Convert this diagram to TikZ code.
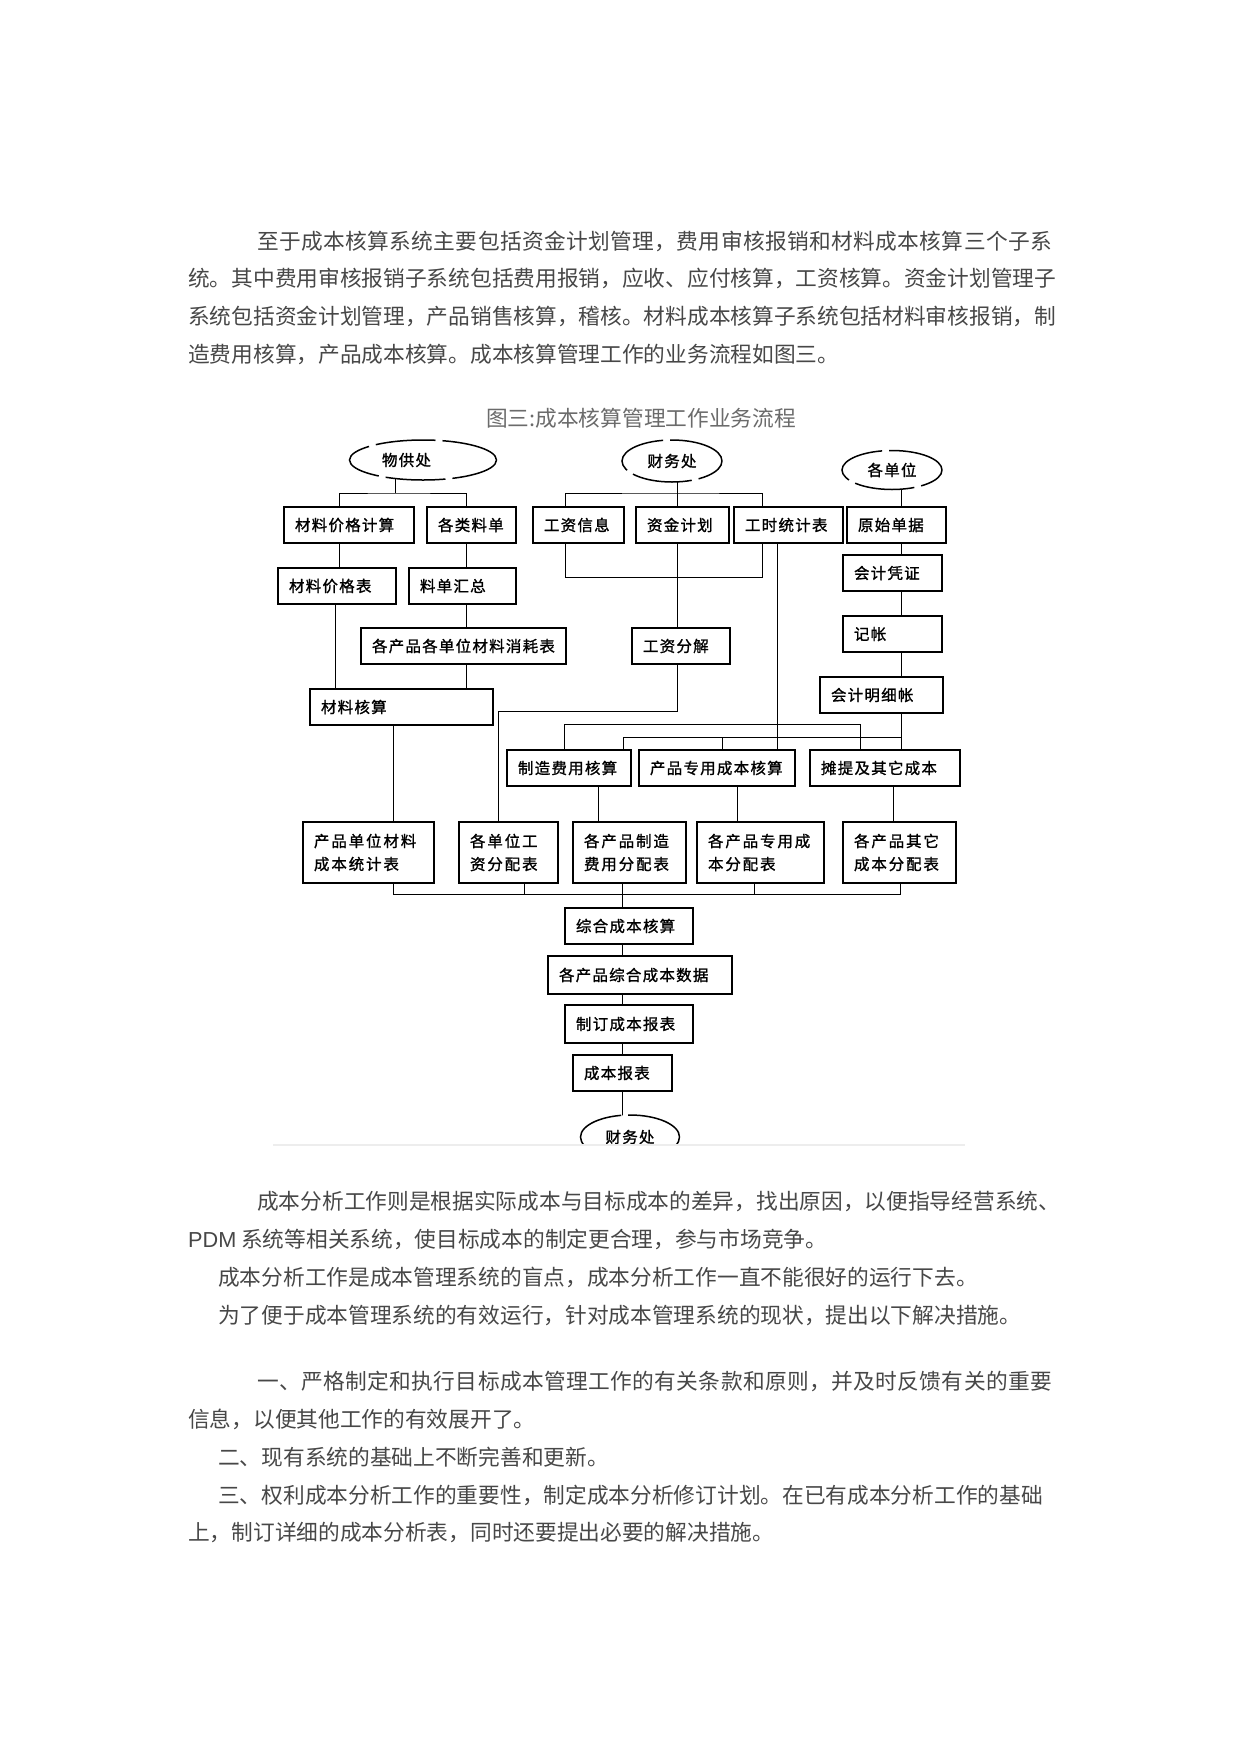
\documentclass[tikz,border=0pt]{standalone}
\usepackage{fontspec}
\setmainfont{Noto Sans CJK SC}
\newfontfamily\bodyfont{Noto Sans CJK SC}
\newfontfamily\widefont[LetterSpace=1.8]{Noto Sans CJK SC}
\newfontfamily\boxfont[LetterSpace=8,FakeBold=1.2]{Noto Sans CJK SC}
\newfontfamily\tablefont[LetterSpace=12,FakeBold=1.2]{Noto Sans CJK SC}
\newfontfamily\latinfont{Liberation Sans}
\usetikzlibrary{shapes.geometric,backgrounds}

\tikzset{
  box/.style={draw, line width=2pt, fill=white, minimum height=36pt,
    inner xsep=11pt, inner ysep=0pt, align=left, anchor=north west,
    font=\boxfont\fontsize{15.5pt}{23pt}\selectfont},
  twoline/.style={box, minimum height=61pt,
    font=\tablefont\fontsize{15.5pt}{23pt}\selectfont},
  org/.style={ellipse, draw, line width=1.5pt, dash pattern=on 60pt off 7pt,
    fill=white, inner sep=0pt, font=\boxfont\fontsize{15.5pt}{18pt}\selectfont},
  body/.style={anchor=west, inner sep=0pt, text=black!72,
    font=\bodyfont\fontsize{21.7pt}{26pt}\selectfont},
  link/.style={line width=2pt},
}

\begin{document}
\begin{tikzpicture}[x=1pt,y=-1pt]
\useasboundingbox (0,0) rectangle (1241,1754);

% Text above the chart
\node[body, font=\widefont\fontsize{21.7pt}{26pt}\selectfont] (p1a) at (257,241) {至于成本核算系统主要包括资金计划管理，费用审核报销和材料成本核算三个子系};
\node[body] (p1b) at (188,278.5) {统。其中费用审核报销子系统包括费用报销，应收、应付核算，工资核算。资金计划管理子};
\node[body] (p1c) at (188,316) {系统包括资金计划管理，产品销售核算，稽核。材料成本核算子系统包括材料审核报销，制};
\node[body] (p1d) at (188,354) {造费用核算，产品成本核算。成本核算管理工作的业务流程如图三。};

% Title
\node[body, anchor=center, text=black!58] (title) at (641,418) {图三:成本核算管理工作业务流程};

% Sources
\node[org, minimum width=147pt, minimum height=40pt, text width=82pt, align=left] (wgc) at (423,460) {物供处};
\node[org, minimum width=100pt, minimum height=42pt] (cwc) at (672,461) {财务处};
\node[org, minimum width=100pt, minimum height=39pt] (gdw) at (892,470) {各单位};

% First row
\node[box, text width=108pt] (jgjs) at (283,506) {材料价格计算};
\node[box, text width=67pt]  (glld) at (426,506) {各类料单};
\node[box, text width=69pt]  (gzxx) at (532,506) {工资信息};
\node[box, text width=71pt]  (zjjh) at (635,506) {资金计划};
\node[box, text width=87pt]  (gstj) at (733,506) {工时统计表};
\node[box, text width=77pt]  (ysdj) at (846,506) {原始单据};

% Material side
\node[box, text width=96pt]  (jgb)  at (277,567) {材料价格表};
\node[box, text width=85pt]  (ldhz) at (408,567) {料单汇总};
\node[box, text width=183pt] (xhb)  at (360,627) {各产品各单位材料消耗表};
\node[box, text width=161pt] (clhs) at (309,688) {材料核算};

% Wage side
\node[box, text width=76pt]  (gzfj) at (631,627) {工资分解};

% Accounting side
\node[box, text width=77pt]  (kjpz) at (842,554) {会计凭证};
\node[box, text width=77pt]  (jz)   at (842,615) {记帐};
\node[box, text width=101pt] (kjmx) at (819,676) {会计明细帐};

% Cost calculations
\node[box, text width=102pt] (zzfy) at (506,749) {制造费用核算};
\node[box, text width=134pt] (cpzy) at (638,749) {产品专用成本核算};
\node[box, text width=128pt] (ttqt) at (809,749) {摊提及其它成本};

% Allocation tables
\node[twoline, text width=109pt] (cldw) at (302,821) {产品单位材料\\成本统计表};
\node[twoline, text width=77pt]  (gzfp) at (458,821) {各单位工\\资分配表};
\node[twoline, text width=91pt]  (zzfp) at (572,821) {各产品制造\\费用分配表};
\node[twoline, text width=105pt] (zyfp) at (696,821) {各产品专用成\\本分配表};
\node[twoline, text width=91pt]  (qtfp) at (842,821) {各产品其它\\成本分配表};

% Summary chain
\node[box, text width=106pt] (zhhs) at (564,907) {综合成本核算};
\node[box, text width=162pt, minimum height=38pt] (zhsj) at (547,955) {各产品综合成本数据};
\node[box, text width=106pt, minimum height=38pt] (zdbb) at (564,1004) {制订成本报表};
\node[box, text width=77pt]  (cbbb) at (572,1054) {成本报表};

\begin{scope}
\clip (0,0) rectangle (1241,1145);
\node[org, minimum width=99pt, minimum height=44pt] (cwcb) at (630,1137) {财务处};
\end{scope}
\draw[black!7, line width=1.5pt] (273,1145) -- (965,1145);

% Connectors
\begin{scope}[on background layer, link]
% 物供处
\coordinate (wgcbus) at (395,493);
\draw (wgc.center -| wgcbus) -- (wgcbus);
\draw (jgjs.north -| 339,0) |- (wgcbus) -| (glld.north -| 466,0);
\draw (jgjs.center -| 339,0) -- (jgb.center -| 339,0);
\foreach \a/\b in {glld/ldhz, ldhz/xhb, xhb/clhs}
  \draw (\a.center -| 466,0) -- (\b.center -| 466,0);
\draw (jgb.center -| 335,0) -- (clhs.center -| 335,0);
\draw (clhs.center -| 393,0) -- (cldw.center -| 393,0);

% 财务处
\coordinate (cwcbus) at (677,493);
\draw (cwc.center -| cwcbus) -- (gzfj.center -| cwcbus);
\draw (gzxx.north -| 565,0) |- (cwcbus) -| (gstj.north -| 762,0);
\coordinate (gzloop) at (762,577);
\draw (gzxx.south -| 565,0) |- (gzloop) -- (gstj.south -| gzloop);
\coordinate (gzbus) at (498,711);
\draw (gzfj.center -| cwcbus) |- (gzbus) -- (gzfp.center -| gzbus);

% 工时统计表
\coordinate (gsbus) at (777,724);
\draw (gstj.center -| gsbus) -- (cpzy.center -| gsbus);
\draw (zzfy.center -| 564,0) |- (gsbus) -| (ttqt.center -| 860,0);

% 各单位
\coordinate (kjbus) at (901,737);
\foreach \a/\b in {gdw/ysdj, ysdj/kjpz, kjpz/jz, jz/kjmx, kjmx/ttqt}
  \draw (\a.center -| kjbus) -- (\b.center -| kjbus);
\draw (zzfy.center -| 623,0) |- (kjbus);
\coordinate (kjstub) at (722,737);
\draw (cpzy.center -| kjstub) -- (kjstub);

% cost to tables
\draw (zzfy.center -| 598,0) -- (zzfp.center -| 598,0);
\draw (cpzy.center -| 737,0) -- (zyfp.center -| 737,0);
\draw (ttqt.center -| 893,0) -- (qtfp.center -| 893,0);

% collect
\coordinate (fpbus) at (622,894);
\draw (cldw.center -| 393,0) |- (fpbus) -| (qtfp.center -| 900,0);
\foreach \n/\x in {gzfp/524, zzfp/622, zyfp/754}
  \draw (\n.center -| \x,0) -- (fpbus -| \x,0);
\foreach \a/\b in {fpbus/zhhs, zhhs/zhsj, zhsj/zdbb, zdbb/cbbb, cbbb/cwcb}
  \draw (\a.center -| fpbus) -- (\b.center -| fpbus);
\end{scope}

% Text below the chart
\node[body] (p2a) at (257,1201) {成本分析工作则是根据实际成本与目标成本的差异，找出原因，以便指导经营系统、};
\node[body] (p2b) at (188,1239) {{\latinfont PDM} 系统等相关系统，使目标成本的制定更合理，参与市场竞争。};
\node[body] (p2c) at (218,1277) {成本分析工作是成本管理系统的盲点，成本分析工作一直不能很好的运行下去。};
\node[body] (p2d) at (218,1315) {为了便于成本管理系统的有效运行，针对成本管理系统的现状，提出以下解决措施。};

\node[body, font=\widefont\fontsize{21.7pt}{26pt}\selectfont] (p3a) at (257,1381) {一、严格制定和执行目标成本管理工作的有关条款和原则，并及时反馈有关的重要};
\node[body] (p3b) at (188,1419) {信息，以便其他工作的有效展开了。};
\node[body] (p3c) at (218,1457) {二、现有系统的基础上不断完善和更新。};
\node[body] (p3d) at (218,1495) {三、权利成本分析工作的重要性，制定成本分析修订计划。在已有成本分析工作的基础};
\node[body] (p3e) at (188,1532) {上，制订详细的成本分析表，同时还要提出必要的解决措施。};

\end{tikzpicture}
\end{document}
